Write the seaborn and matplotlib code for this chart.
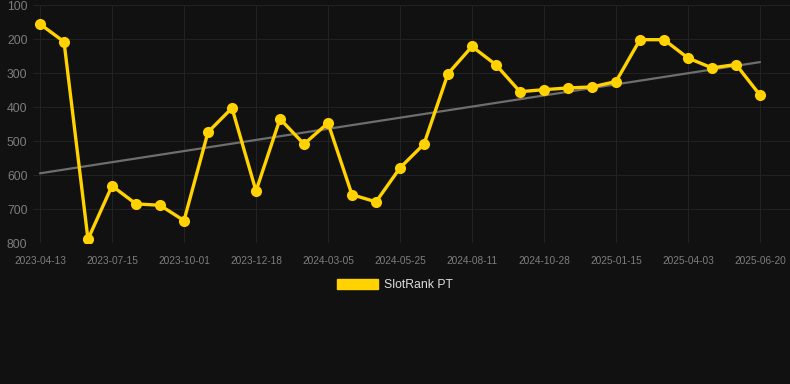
import numpy as np
import matplotlib
matplotlib.use("Agg")
import matplotlib.pyplot as plt
from matplotlib.patches import Patch
import pandas as pd
import seaborn as sns

# rank values (lower is better, axis inverted)
ranks = [156, 208, 789, 632, 685, 689, 734, 474, 403, 647,
         435, 509, 447, 658, 679, 579, 509, 302, 222, 276,
         355, 349, 344, 341, 325, 202, 202, 256, 285, 275, 365]
tickLabels = ["2023-04-13", "2023-07-15", "2023-10-01", "2023-12-18",
              "2024-03-05", "2024-05-25", "2024-08-11", "2024-10-28",
              "2025-01-15", "2025-04-03", "2025-06-20"]
trendEnds = [595, 268]
seriesName = "SlotRank PT"

df = pd.DataFrame({"idx": np.arange(len(ranks)), "rank": ranks})
trend = pd.DataFrame({"idx": [0, len(ranks) - 1], "rank": trendEnds})

bg = "#111111"
gridCol = "#222222"
sns.set_style("dark")
plt.rcParams["font.family"] = ["Liberation Sans", "DejaVu Sans"]

fig = plt.figure(figsize=(7.9, 3.84), dpi=100, facecolor=bg)
ax = fig.add_axes([33 / 790, 1 - 243 / 384, 1 - 33 / 790, 238 / 384])
ax.set_facecolor(bg)

sns.lineplot(data=trend, x="idx", y="rank", ax=ax, color="#6e6e6e", linewidth=1.6)
sns.lineplot(data=df, x="idx", y="rank", ax=ax, color="#ffd200", linewidth=2.4,
             marker="o", markersize=8, markeredgewidth=0)

ax.set_ylim(800, 100)
ax.set_xlim(-7 / 24, 30 + 30 / 24)
ax.set_yticks([100, 200, 300, 400, 500, 600, 700, 800])
ax.set_xticks(np.arange(0, len(ranks), 3))
ax.set_xticklabels(tickLabels)
ax.tick_params(axis="x", colors=gridCol, labelcolor="#7d7d7d", labelsize=7.3, length=6, width=1, pad=3)
ax.tick_params(axis="y", colors="#7d7d7d", labelsize=8.8, length=0, pad=4)
ax.grid(True, color=gridCol, linewidth=0.8)
ax.set_xlabel("")
ax.set_ylabel("")
for s in ax.spines.values():
    s.set_visible(False)

handle = Patch(facecolor="#ffd200", edgecolor="#ffd200", label=seriesName)
fig.legend(handles=[handle], loc="center", bbox_to_anchor=(0.5, 1 - 285 / 384),
           frameon=False, handlelength=3.3, handleheight=0.9, handletextpad=0.5,
           labelcolor="#dddddd", fontsize=8.8)

fig.savefig("out.png", dpi=100, facecolor=bg)
